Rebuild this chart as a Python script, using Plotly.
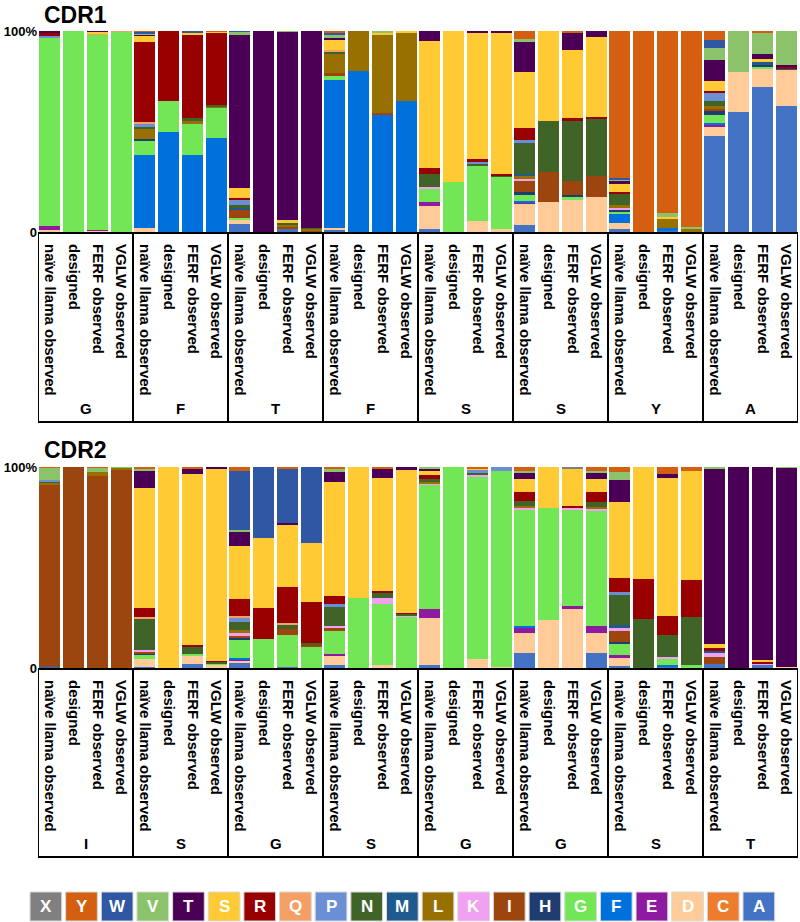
import plotly.graph_objects as go

# ---------------- data ----------------
AA_LEGEND = ["X", "Y", "W", "V", "T", "S", "R", "Q", "P", "N", "M", "L", "K", "I", "H", "G", "F", "E", "D", "C", "A"]
AA_COLORS = {
    "X": "#808080", "Y": "#D45F10", "W": "#2F57A3", "V": "#8CC36A", "T": "#4B0055",
    "S": "#FFCA33", "R": "#990000", "Q": "#F4A064", "P": "#6A8FD5", "N": "#406328",
    "M": "#1F5A8F", "L": "#977000", "K": "#F1A1F1", "I": "#9C450E", "H": "#203D72",
    "G": "#72E654", "F": "#0070DC", "E": "#8E1AA0", "D": "#FFCC99", "C": "#EE7C2E",
    "A": "#4472C4",
}
BAR_LABELS = ["naïve llama observed", "designed", "FERF observed", "VGLW observed"]

CDR1_GROUPS = ["G", "F", "T", "F", "S", "S", "Y", "A"]
CDR2_GROUPS = ["I", "S", "G", "S", "G", "G", "S", "T"]

# CDR1 composition (%) per bar, grouped by position
CDR1_G1 = [dict(D=1, E=2, G=94, P=0.5, R=1.5, T=1),
           dict(G=100),
           dict(D=0.5, E=0.7, G=97.3, Q=0.5, S=0.5, T=0.5),
           dict(G=99.5, Q=0.5)]
CDR1_F1 = [dict(D=2, F=36.5, G=6.6, H=1.3, L=5, N=1, P=1.5, Q=1, R=39.5, S=3.6, T=0.5, V=0.5, W=0.5, Y=0.5),
           dict(F=50, G=15, R=35),
           dict(F=38.5, G=15, L=1.5, N=1.5, R=41.5, S=1.3, W=0.7),
           dict(F=47, G=15, L=0.6, N=0.6, R=36, S=0.4, Y=0.4)]
CDR1_T1 = [dict(A=4, D=2, G=1, I=4, M=1, N=1.5, P=2.5, R=1, S=5, T=76, V=1.5, W=0.5),
           dict(T=100),
           dict(A=1.5, I=1, L=1, N=1, S=1.3, T=93.7, V=0.5),
           dict(I=0.5, N=0.5, L=1, T=98)]
CDR1_F2 = [dict(A=1.3, D=0.8, F=73.5, G=2, I=1.5, L=9.3, N=1, Q=1.3, S=5.3, T=0.5, V=2, W=0.5, Y=1),
           dict(F=80, L=20),
           dict(F=58.5, I=0.5, L=39, S=1.3, V=0.7),
           dict(F=65.2, L=34.2, S=0.6)]
CDR1_S1 = [dict(A=1.3, D=11.6, E=2.2, G=6.6, K=0.8, N=6.3, R=2.8, S=63.4, T=5),
           dict(G=24.7, S=75.3),
           dict(D=5.6, G=27, P=0.7, N=1.3, R=1.7, S=62.7, T=1),
           dict(D=1.5, G=26, N=0.7, R=0.6, S=70.5, T=0.7)]
CDR1_S2 = [dict(A=3.5, D=10.3, E=1, F=0.8, G=2.8, H=1.3, I=5.8, K=0.8, L=1.5, M=1.3, N=15.4, P=1.2, R=5.8, S=28.2, T=14.6, V=1.6, Y=4.1),
           dict(D=14.8, I=15, N=25.2, S=45),
           dict(D=16, G=1.6, H=0.8, I=7, N=30.3, R=0.8, S=34, T=8.9, Y=0.6),
           dict(D=17.6, I=10.4, N=28.5, R=0.8, S=39.9, T=2.8)]
CDR1_Y1 = [dict(A=1.3, D=3.3, F=4.6, G=0.8, H=1.2, K=0.8, L=1.3, N=5.8, R=0.8, S=4.2, T=1.2, V=1, W=0.4, Y=73.3),
           dict(Y=100),
           dict(A=0.7, F=1.2, L=5, S=0.8, V=1.6, Y=90.7),
           dict(L=1.9, V=0.8, Y=97.3)]
CDR1_A1 = [dict(A=47.6, D=5, E=0.8, F=0.8, G=4.1, H=1.7, I=1.3, L=1.5, N=2.5, P=3.8, R=1.3, S=4.8, T=10.4, V=6.1, W=3.8, Y=4.5),
           dict(A=59.9, D=19.9, V=20.2),
           dict(A=72.3, D=9.1, G=0.8, H=1, M=1.5, S=1.6, T=2.5, V=10.4, Y=0.8),
           dict(A=62.7, D=17.9, M=0.8, R=0.6, T=1.3, V=16.7)]

# CDR2 composition (%) per bar
CDR2_I1 = [dict(F=0.7, I=90.5, L=1, N=0.8, P=0.7, V=6, Y=0.3),
           dict(I=100),
           dict(I=95.5, L=2.2, V=1.8, Y=0.5),
           dict(I=98.7, L=0.8, V=0.5)]
CDR2_S1 = [dict(A=0.7, D=3.6, G=2.2, H=0.5, I=0.8, K=1.3, N=15.3, Q=0.8, R=4.5, S=59.7, T=8.8, V=0.8, Y=1),
           dict(S=100),
           dict(A=2, D=4.1, G=0.8, N=3.6, R=0.8, S=85.4, T=2.6, Y=0.7),
           dict(D=1.4, G=1, N=0.6, R=0.6, S=95.4, T=1)]
CDR2_G1 = [dict(A=2.3, D=1.3, E=0.7, F=0.8, G=9.3, H=0.8, I=0.8, K=1.6, L=1.1, N=4.1, P=2.2, Q=0.7, R=8.8, S=26.2, T=7, V=1.1, W=29.1, Y=2.1),
           dict(G=14.4, R=15.3, S=34.8, W=35.5),
           dict(A=0.7, G=15.8, I=2.8, N=2.5, Q=0.8, R=17.9, S=30.8, T=1, W=27, Y=0.7),
           dict(G=10.6, I=1, N=1, R=20.4, S=29.4, W=37.6)]
CDR2_S2 = [dict(A=1.5, D=4.6, E=0.8, G=11.6, I=1.2, K=1.2, N=9.6, P=1.2, R=4.1, S=56.6, T=5.3, V=1.3, Y=1),
           dict(G=34.7, S=65.3),
           dict(D=1.5, G=30.3, K=2.8, N=2.5, R=1.3, S=56, T=4.6, Y=1),
           dict(G=25.5, K=0.8, N=0.6, R=0.6, S=70.8, T=1.7)]
CDR2_G2 = [dict(A=1.5, D=23.5, E=4.6, G=61.6, N=1.4, K=0.7, L=0.7, R=2, S=1.8, T=1.2, V=1),
           dict(G=100),
           dict(D=4.5, K=0.8, G=91, N=0.8, P=1.6, S=0.8, Y=0.5),
           dict(D=0.7, G=97.5, P=1.8)]
CDR2_G3 = [dict(A=7.3, D=10, E=3, F=0.7, G=57.4, K=1, L=1, N=2.5, R=4.6, S=6.6, T=3.3, V=0.8, Y=1.8),
           dict(D=23.9, G=55.5, S=20.6),
           dict(D=29.4, E=1.2, G=48, K=1, R=1.2, S=18.2, X=1),
           dict(A=7.3, D=10, E=3.6, G=57.4, K=1, L=1, N=2.5, R=5, S=6.3, T=3.3, V=0.8, Y=1.8)]
CDR2_S3 = [dict(A=1.2, D=3.6, E=1.7, G=5.8, H=0.8, I=5.5, K=1.2, M=1.7, N=14.9, P=1.2, R=7.1, S=37.7, T=11.3, V=4, Y=2.3),
           dict(N=24.2, R=19.9, S=55.9),
           dict(A=0.7, F=0.8, G=3.3, K=0.8, N=10.8, R=9.5, S=68.5, T=2.1, Y=3.5),
           dict(G=1.5, N=24, R=18.2, S=54.5, Y=1.8)]
CDR2_T1 = [dict(A=2, I=3.6, K=1.7, M=1.3, R=1.2, S=2.2, T=87, V=1),
           dict(T=100),
           dict(A=1.5, K=0.8, R=0.5, S=1.3, T=95.9),
           dict(D=0.7, T=98.8, V=0.5)]

CDR1_BARS = CDR1_G1 + CDR1_F1 + CDR1_T1 + CDR1_F2 + CDR1_S1 + CDR1_S2 + CDR1_Y1 + CDR1_A1
CDR2_BARS = CDR2_I1 + CDR2_S1 + CDR2_G1 + CDR2_S2 + CDR2_G2 + CDR2_G3 + CDR2_S3 + CDR2_T1

# ---------------- layout helpers ----------------
W, H = 800, 922
PLOT_LEFT, PLOT_RIGHT = 38, 798          # page px
L_M = PLOT_LEFT
R_M = W - PLOT_RIGHT
def px_x(px):
    return (px - L_M) / (W - L_M - R_M)
def px_y(py):
    return 1 - py / H

FONT = "Liberation Sans, Arial, Helvetica, sans-serif"
STACK_ORDER = list(reversed(AA_LEGEND))  # bottom -> top: A, C, D, ..., Y, X

fig = go.Figure()
n = len(CDR1_BARS)
xs = list(range(n))
for bars, xa, ya in [(CDR1_BARS, "x", "y"), (CDR2_BARS, "x2", "y2")]:
    for aa in STACK_ORDER:
        vals = [b.get(aa, 0) for b in bars]
        if not any(vals):
            continue
        fig.add_trace(go.Bar(
            x=xs, y=vals, name=aa, marker=dict(color=AA_COLORS[aa], line=dict(width=0)),
            xaxis=xa, yaxis=ya, showlegend=False,
            hovertemplate=aa + ": %{y}%<extra></extra>",
        ))

ticktext = ["<b>%s</b>" % BAR_LABELS[i % 4] for i in xs]
xcommon = dict(range=[-0.5, n - 0.5], tickmode="array", tickvals=xs, ticktext=ticktext,
               tickangle=90, tickfont=dict(family=FONT, size=15, color="black"),
               ticks="outside", ticklen=8, tickcolor="rgba(0,0,0,0)",
               showgrid=False, zeroline=False, showline=False, domain=[0, 1],
               automargin=False)
ycommon = dict(range=[0, 100], tickmode="array", tickvals=[0, 100],
               ticktext=["<b>0</b>", "<b>100%</b>"],
               tickfont=dict(family=FONT, size=13, color="black"),
               showgrid=False, zeroline=False, showline=False, ticks="",
               automargin=False)

fig.update_layout(
    width=W, height=H, barmode="stack", bargap=0.115,
    margin=dict(l=L_M, r=R_M, t=0, b=0, autoexpand=False),
    paper_bgcolor="white", plot_bgcolor="white",
    xaxis=dict(xcommon, anchor="y"),
    yaxis=dict(ycommon, domain=[px_y(232), px_y(31)], anchor="x"),
    xaxis2=dict(xcommon, anchor="y2"),
    yaxis2=dict(ycommon, domain=[px_y(668), px_y(467)], anchor="x2"),
    font=dict(family=FONT, color="black"),
)

shapes = []
annotations = []
# titles
annotations.append(dict(text="<b>CDR1</b>", x=px_x(42), y=px_y(15), xref="paper", yref="paper",
                        xanchor="left", yanchor="middle", showarrow=False,
                        font=dict(family=FONT, size=23, color="black")))
annotations.append(dict(text="<b>CDR2</b>", x=px_x(42), y=px_y(450), xref="paper", yref="paper",
                        xanchor="left", yanchor="middle", showarrow=False,
                        font=dict(family=FONT, size=23, color="black")))

# group boxes and group letters
for groups, xa, top_px, bot_px, lab_px in [(CDR1_GROUPS, "x", 233, 422, 408),
                                           (CDR2_GROUPS, "x2", 669, 857, 843)]:
    for gi, g in enumerate(groups):
        x0 = gi * 4 - 0.5
        x1 = gi * 4 + 3.5
        shapes.append(dict(type="rect", xref=xa, yref="paper", x0=x0, x1=x1,
                           y0=px_y(bot_px), y1=px_y(top_px),
                           line=dict(color="black", width=2), fillcolor="rgba(0,0,0,0)"))
        annotations.append(dict(text="<b>%s</b>" % g, x=gi * 4 + 1.5, y=px_y(lab_px), xref=xa, yref="paper",
                                xanchor="center", yanchor="middle", showarrow=False,
                                font=dict(family=FONT, size=15, color="black")))

# legend squares
x_start, pitch, sq_w = 30, 35.65, 31.7
for i, aa in enumerate(AA_LEGEND):
    x0 = x_start + i * pitch
    shapes.append(dict(type="rect", xref="paper", yref="paper",
                       x0=px_x(x0), x1=px_x(x0 + sq_w), y0=px_y(921), y1=px_y(892),
                       line=dict(color="#D9D9D9", width=1), fillcolor=AA_COLORS[aa]))
    annotations.append(dict(text="<b>%s</b>" % aa, x=px_x(x0 + sq_w / 2), y=px_y(906.5),
                            xref="paper", yref="paper", xanchor="center", yanchor="middle",
                            showarrow=False, font=dict(family=FONT, size=17, color="white")))

fig.update_layout(shapes=shapes, annotations=annotations)
# remove the default 8px page margin so the figure fills the window exactly
fig.write_html("out.html", config={"displayModeBar": False},
               post_script="document.body.style.margin='0';document.body.style.overflow='hidden';")
